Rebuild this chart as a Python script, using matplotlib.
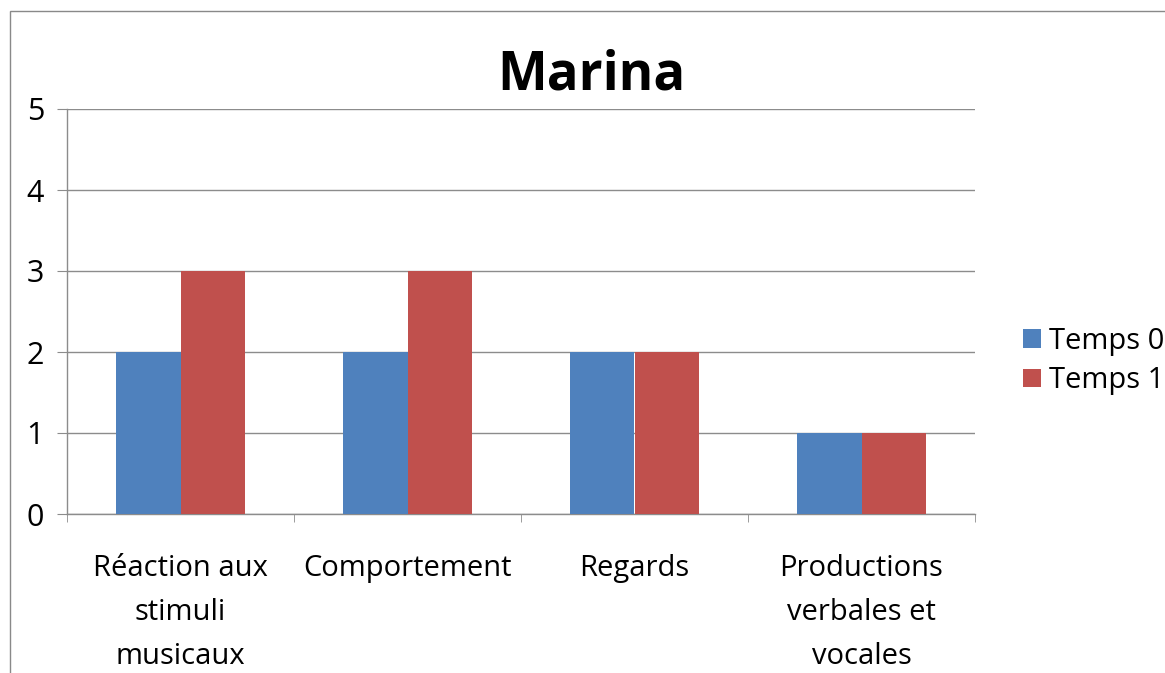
import matplotlib
matplotlib.use("Agg")
import matplotlib.pyplot as plt
import numpy as np
from matplotlib.patches import Rectangle

categories = ["Réaction aux\nstimuli\nmusicaux", "Comportement", "Regards", "Productions\nverbales et\nvocales"]
temps0 = [2, 2, 2, 1]
temps1 = [3, 3, 2, 1]
series_names = ["Temps 0", "Temps 1"]
yticks = [0, 1, 2, 3, 4, 5]

plt.rcParams['font.family'] = ['Open Sans', 'DejaVu Sans']

W, H = 1165, 673
fig = plt.figure(figsize=(W/100, H/100), dpi=100)
fig.patches.append(Rectangle((10/W, -0.1), 1.2, 1 - 11/H + 0.1, transform=fig.transFigure,
                             fill=False, edgecolor="#898989", linewidth=1.0))

ax = fig.add_axes([67/W, 1 - 514/H, (975-67)/W, (514-109)/H])
x = np.arange(len(categories))
bw = 0.285
ax.bar(x - bw/2, temps0, bw, color="#4F81BD", label=series_names[0], zorder=3)
ax.bar(x + bw/2, temps1, bw, color="#C0504D", label=series_names[1], zorder=3)

ax.set_xlim(-0.5, len(categories) - 0.5)
ax.set_ylim(0, 5)
ax.set_yticks(yticks)
ax.set_yticklabels([str(v) for v in yticks], fontsize=22)
ax.yaxis.grid(True, color="#8C8C8C", linewidth=1.0, zorder=0)
ax.set_axisbelow(True)

ax.set_xticks(x)
ax.set_xticklabels(categories, fontsize=21, linespacing=1.68, va="top")
ax.tick_params(axis="x", which="major", length=0, pad=29)
ax.set_xticks(np.arange(len(categories) + 1) - 0.5, minor=True)
ax.tick_params(axis="x", which="minor", length=6, color="#8C8C8C", direction="out")
ax.tick_params(axis="y", length=7.5, color="#8C8C8C", direction="out", pad=9)

for s in ["top", "right"]:
    ax.spines[s].set_visible(False)
for s in ["left", "bottom"]:
    ax.spines[s].set_color("#8C8C8C")
    ax.spines[s].set_linewidth(1.0)

fig.text(591/W, 1 - 75/H, "Marina", fontsize=38, fontweight="bold", ha="center", va="center")

leg = fig.legend(loc="center left", bbox_to_anchor=(1023/W, 1 - 361/H), frameon=False, fontsize=21,
                 handlelength=0.6, handleheight=0.6, handletextpad=0.3, labelspacing=0.35,
                 borderpad=0, borderaxespad=0)

fig.savefig("out.png", dpi=100)
